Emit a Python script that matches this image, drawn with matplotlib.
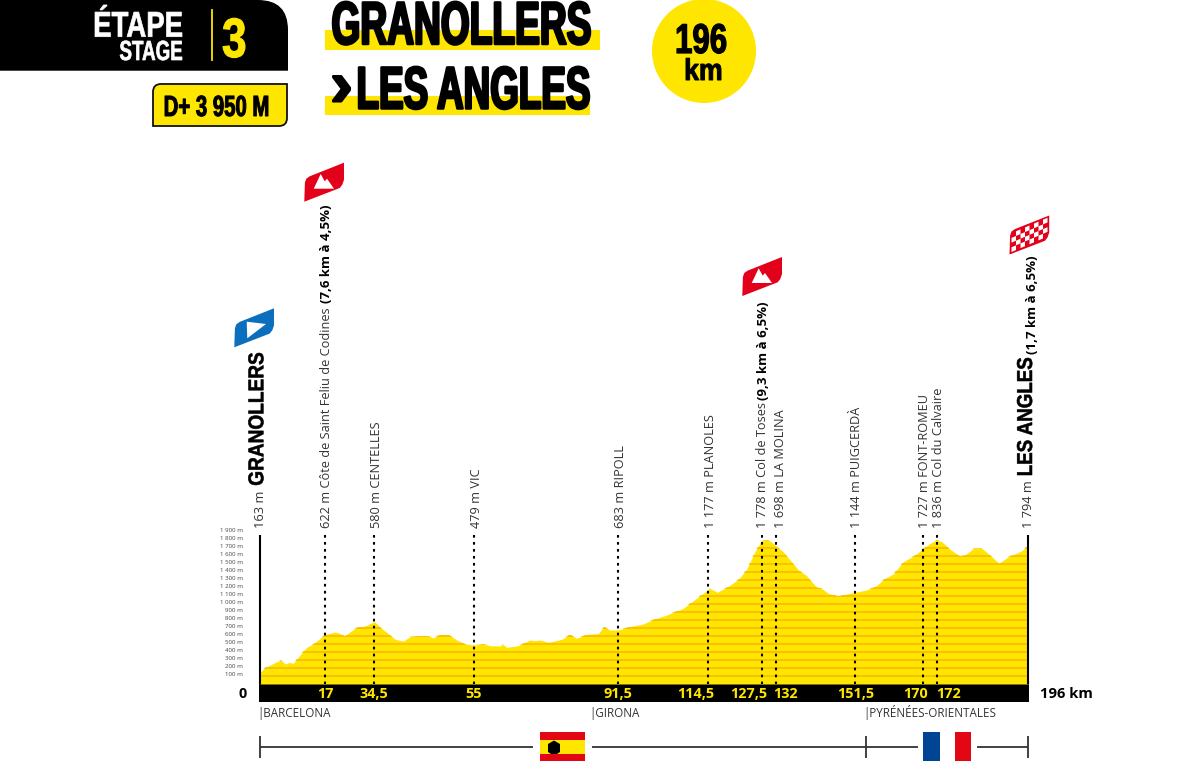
import matplotlib
matplotlib.use("Agg")
import matplotlib.pyplot as plt
import matplotlib.colors as mcolors
from matplotlib.patches import Polygon, Rectangle, Circle, PathPatch
from matplotlib.path import Path
from matplotlib.text import Text
from matplotlib.textpath import TextPath
from matplotlib.font_manager import FontProperties
from matplotlib.transforms import ScaledTranslation, Affine2D

# ---------- data ----------
profile_km = [0, 1.3, 2.6, 3.8, 5.4, 6.4, 7.5, 8.5, 10.2, 11.9, 13.6, 15.3, 16.6, 17.9, 19.1, 20.4, 21.7, 23.0,
              24.7, 26.8, 29.2, 31.0, 33.2, 34.5, 36.6, 38.3, 40.0, 43.0, 44.2, 45.9, 48.1, 50.2, 52.7, 54.9,
              57.0, 58.7, 61.2, 61.9, 63.0, 65.9, 68.9, 70.2, 71.5, 73.6, 77.0, 79.1, 80.8, 83.4, 86.3, 87.8,
              89.3, 91.4, 94.4, 97.8, 100.4, 103.8, 108.0, 109.7, 112.3, 114.8, 116.7, 119.1, 122.1, 124.2,
              126.3, 128.0, 129.7, 131.0, 131.7, 133.5, 135.3, 137.4, 139.5, 140.8, 142.1, 143.3, 145.0, 147.6,
              149.7, 151.8, 154.8, 157.0, 159.5, 161.6, 164.2, 167.2, 169.3, 171.0, 172.7, 174.0, 176.1, 178.6,
              179.9, 182.1, 184.2, 186.3, 188.6, 191.0, 194.0, 195.2, 196]
profile_m = [142, 208, 237, 267, 300, 250, 270, 258, 362, 458, 500, 570, 620, 633, 650, 633, 600, 654,
             708, 725, 780, 696, 612, 558, 537, 592, 600, 600, 575, 617, 620, 550, 492, 488,
             500, 479, 475, 496, 458, 479, 550, 542, 550, 521, 558, 621, 571, 621, 629, 717,
             675, 675, 717, 750, 808, 862, 946, 1008, 1104, 1196, 1146, 1208, 1308, 1433,
             1654, 1792, 1800, 1758, 1725, 1654, 1550, 1425, 1354, 1279, 1208, 1196, 1133, 1100,
             1125, 1146, 1175, 1217, 1321, 1375, 1529, 1612, 1696, 1758, 1800, 1779, 1683, 1600,
             1612, 1696, 1696, 1612, 1508, 1592, 1654, 1696, 1758]
marker_km = [16.6, 29.1, 54.6, 91.4, 114.3, 128.0, 131.7, 151.8, 169.3, 172.7]
band_labels = ['17', '34,5', '55', '91,5', '114,5', '127,5', '132', '151,5', '170', '172']
band_label_km = [16.6, 29.1, 54.6, 91.4, 111.3, 124.8, 134.2, 152.0, 167.3, 175.8]
alt_ticks = [100, 200, 300, 400, 500, 600, 700, 800, 900, 1000, 1100, 1200, 1300, 1400, 1500, 1600, 1700, 1800, 1900]
alt_labels = ['100 m', '200 m', '300 m', '400 m', '500 m', '600 m', '700 m', '800 m', '900 m',
              '1 000 m', '1 100 m', '1 200 m', '1 300 m', '1 400 m', '1 500 m', '1 600 m', '1 700 m', '1 800 m', '1 900 m']
place_labels = ['163 m', '622 m Côte de Saint Feliu de Codines', '580 m CENTELLES', '479 m VIC', '683 m RIPOLL',
                '1 177 m PLANOLES', '1 778 m Col de Toses', '1 698 m LA MOLINA', '1 144 m PUIGCERDÀ',
                '1 727 m FONT-ROMEU', '1 836 m Col du Calvaire', '1 794 m']
place_x = [261, 326, 376, 476, 620, 710, 762, 780, 857, 925, 939, 1029]
region_labels = ['|BARCELONA', '|GIRONA', '|PYRÉNÉES-ORIENTALES']
region_x = [257, 589, 863]

YELLOW = '#FFE600'
ORANGE = '#FBBC00'
GREY = '#333333'
HEAVY = 'Liberation Sans'
SANS = ['Open Sans', 'Noto Sans']


class FitText(Text):
    """A real text artist whose glyphs are squeezed to a given ink length (heavy condensed look)."""

    def __init__(self, x, y, s, length, heavy=0.8, **kw):
        super().__init__(x, y, s, **kw)
        self._length = length
        self._heavy = heavy

    def _geom(self):
        k = self.figure.dpi / 72
        x, y = self.get_transform().transform(self.get_position())
        fp = FontProperties(family=HEAVY, weight='bold', size=self.get_fontsize())
        path = TextPath((0, 0), self.get_text(), size=self.get_fontsize(), prop=fp)
        ext = path.get_extents()
        sx = self._length / (ext.width * k)
        tr = Affine2D().translate(-ext.x0, 0).scale(sx * k, k).rotate_deg(self.get_rotation()).translate(x, y)
        return path, tr, x, y

    def _get_layout(self, renderer):
        path, tr, x, y = self._geom()
        return path.get_extents(tr).translated(-x, -y), [], 0

    def draw(self, renderer):
        path, tr, _, _ = self._geom()
        gc = renderer.new_gc()
        gc.set_foreground(self.get_color())
        gc.set_linewidth(self._heavy)
        renderer.draw_path(gc, path, tr, mcolors.to_rgba(self.get_color()))
        gc.restore()

    def get_window_extent(self, renderer=None, dpi=None):
        path, tr, _, _ = self._geom()
        return path.get_extents(tr)


fig = plt.figure(figsize=(12, 7.71), dpi=100, facecolor='white')
W, H = 1200, 771
bg = fig.add_axes([0, 0, 1, 1])
bg.set_xlim(0, W); bg.set_ylim(H, 0); bg.axis('off')


def fit(x, y, s, length, size, color='black', heavy=0.8, rotation=0):
    t = FitText(x, y, s, length, heavy=heavy, fontsize=size, color=color, rotation=rotation,
                transform=bg.transData, zorder=6)
    bg.add_artist(t)
    return t


# ---------- profile axes ----------
top_px, base_px = 530, 684
left_px, right_px = 260, 1028
ax = fig.add_axes([left_px / W, 1 - base_px / H, (right_px - left_px) / W, (base_px - top_px) / H])
ax.set_xlim(0, 196)
ax.set_ylim(0, (base_px - top_px) / 8 * 100)
ax.patch.set_alpha(0)
for s in ax.spines.values():
    s.set_visible(False)
ax.set_xticks([])
ax.set_yticks(alt_ticks)
ax.set_yticklabels(alt_labels, fontsize=4.4, color='#444444', family=SANS)
ax.tick_params(axis='y', length=0, pad=12.2)
shift = ScaledTranslation(0, 2.3 / 100, fig.dpi_scale_trans)
for lab in ax.get_yticklabels():
    lab.set_transform(lab.get_transform() + shift)

ax.fill_between(profile_km, profile_m, 0, color=YELLOW, lw=0, zorder=1)
clip_poly = Polygon(list(zip([0] + profile_km + [196], [0] + profile_m + [0])), closed=True, transform=ax.transData)
for v in alt_ticks:
    ln, = ax.plot([0, 196], [v, v], color=ORANGE, lw=1.3, zorder=2)
    ln.set_clip_path(clip_poly)
dot_top = (base_px - 535) / 8 * 100
ax.vlines(marker_km, dot_top, 0, color='black', lw=1.5, linestyles=[(0, (1.3, 2.05))], zorder=3)
ax.vlines([0, 196], 0, dot_top, color='black', lw=1.5, zorder=3, clip_on=False)

# black distance band
bg.add_patch(Rectangle((259, 684), 770, 18, fc='black', ec='none', zorder=1))
for lab, km in zip(band_labels, band_label_km):
    ax.annotate(lab, (km, 0), xytext=(0, -7.2), textcoords='offset points', ha='center', va='center',
                color=YELLOW, fontsize=10.4, fontweight='bold', family=SANS, annotation_clip=False, zorder=5)
bg.text(243, 693.5, '0', ha='center', va='center', fontsize=10.4, fontweight='bold', family=SANS, color='black')
bg.text(1040, 693.5, '196 km', ha='left', va='center', fontsize=10.6, fontweight='bold', family=SANS, color='black')

for lab, x in zip(region_labels, region_x):
    bg.text(x, 713, lab, ha='left', va='center', fontsize=8.4, family=SANS, color=GREY)

# place labels
for lab, x in zip(place_labels, place_x):
    bg.text(x, 528, lab, rotation=90, ha='center', va='bottom', fontsize=9.2, family=SANS, color=GREY)
fit(263.3, 485, 'GRANOLLERS', 132, 15.5, rotation=90, heavy=0.4)
fit(1032, 475, 'LES ANGLES', 117, 15.5, rotation=90, heavy=0.4)
for s, x, y in [('(7,6 km à 4,5%)', 326.5, 303), ('(9,3 km à 6,5%)', 763.5, 400), ('(1,7 km à 6,5%)', 1032, 354)]:
    bg.text(x, y, s, rotation=90, ha='center', va='bottom', fontsize=9.5, fontweight='bold', family=SANS, color='black')


# flags
def flag(x, y, color):
    pts = [(0, 0), (0.6, -19), (2, -23), (5.4, -25.4), (39.7, -39), (39.7, -22), (38, -17), (35.4, -13.7)]
    p = Polygon([(x + a, y + b) for a, b in pts], closed=True, fc=color, ec='none', zorder=3)
    bg.add_patch(p)
    return p


flag(234.3, 347.3, '#0B6FBE')
bg.add_patch(Polygon([(246.7, 321.7), (266, 324), (247.3, 338.3)], fc='white', ec='none', zorder=4))
for fx, fy in [(304.3, 201.7), (742.3, 296)]:
    flag(fx, fy, '#E2001A')
    bg.add_patch(Polygon([(fx + 9.4, fy - 13), (fx + 16.4, fy - 27.7), (fx + 20.4, fy - 20.4), (fx + 22.7, fy - 23),
                          (fx + 29.7, fy - 13)], fc='white', ec='none', zorder=4))
cx, cy = 1009.5, 254.5
fp_ = flag(cx, cy, '#E2001A')
for i in range(8):
    for j in range(4):
        if (i + j) % 2 == 0:
            a = cx + 2 + i * 4.5
            b = cy - 2.5 - j * 4.7 - i * 1.93
            sq = Polygon([(a, b), (a + 4.5, b - 1.93), (a + 4.5, b - 6.63), (a, b - 4.7)], fc='white', ec='none', zorder=4)
            bg.add_patch(sq)
            sq.set_clip_path(fp_)

# country bar
for x0, x1 in [(260, 533), (592, 918), (977, 1028)]:
    bg.plot([x0, x1], [747, 747], color=GREY, lw=1.3, solid_capstyle='butt')
for x in [260, 866, 1028]:
    bg.plot([x, x], [736, 758], color=GREY, lw=1.3, solid_capstyle='butt')
bg.add_patch(Rectangle((540, 732), 45, 29, fc='#E30613', ec='none'))
bg.add_patch(Rectangle((540, 740), 45, 14, fc=YELLOW, ec='none'))
bg.add_patch(Polygon([(554, 740.5), (560, 744), (560, 752), (557, 754), (551, 754), (548, 752), (548, 744)],
                     fc='black', ec='none', zorder=3))
bg.add_patch(Rectangle((923.3, 732), 16.7, 29, fc='#004494', ec='none'))
bg.add_patch(Rectangle((954.7, 732), 16, 29, fc='#E30613', ec='none'))

# header
hdr = Path([(0, 0), (258, 0), (288, 0), (288, 30), (288, 70.7), (0, 70.7), (0, 0)],
           [Path.MOVETO, Path.LINETO, Path.CURVE3, Path.CURVE3, Path.LINETO, Path.LINETO, Path.CLOSEPOLY])
bg.add_patch(PathPatch(hdr, fc='black', ec='none'))
fit(95, 36.7, 'ÉTAPE', 87, 25.8, color='white', heavy=0.5)
fit(120, 60, 'STAGE', 62, 19.9, color='white', heavy=0.5)
bg.plot([212, 212], [10, 60], color=YELLOW, lw=1.3)
fit(223, 57, '3', 22, 40, color=YELLOW, heavy=0.8)

box = Path([(153, 92), (153, 84), (161, 84), (287, 84), (287, 118), (287, 126), (279, 126), (153, 126), (153, 92)],
           [Path.MOVETO, Path.CURVE3, Path.CURVE3, Path.LINETO, Path.LINETO, Path.CURVE3, Path.CURVE3, Path.LINETO, Path.CLOSEPOLY])
bg.add_patch(PathPatch(box, fc=YELLOW, ec='#111111', lw=1.3))
fit(165, 116, 'D+ 3 950 M', 103, 21, heavy=0.7)

# title
bg.add_patch(Rectangle((325, 30), 275, 19.5, fc=YELLOW, ec='none', zorder=1))
bg.add_patch(Rectangle((325, 96), 265, 19, fc=YELLOW, ec='none', zorder=1))
fit(333, 44, 'GRANOLLERS', 257, 43.5, heavy=1.8)
fit(333, 106, '›', 17, 47, heavy=1.5)
fit(359, 108.5, 'LES ANGLES', 230, 43, heavy=1.8)

bg.add_patch(Circle((704, 51), 52, fc=YELLOW, ec='none'))
fit(677, 53, '196', 49, 30, heavy=0.9)
fit(686, 80, 'km', 35, 21.7, heavy=0.7)

fig.savefig('out.png', dpi=100)
